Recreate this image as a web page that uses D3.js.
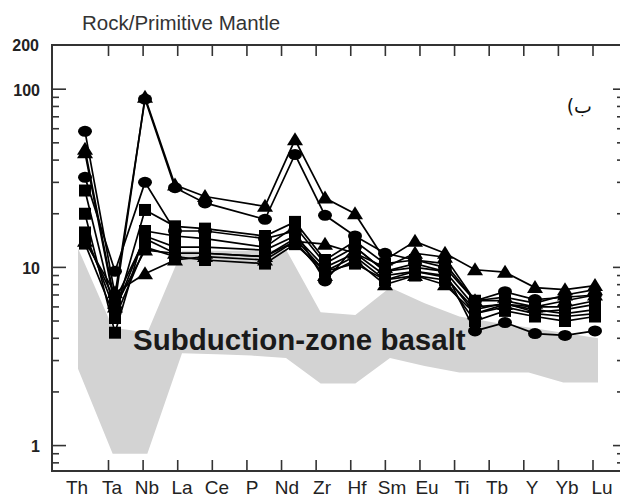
<!DOCTYPE html>
<html><head><meta charset="utf-8">
<script src="https://cdn.jsdelivr.net/npm/d3@7"></script>
<style>body{margin:0;background:#fff}svg{display:block}</style>
</head><body><svg id="c" width="620" height="499"></svg>
<script>
// ---- data ----
const axisLabels = ["Th","Ta","Nb","La","Ce","P","Nd","Zr","Hf","Sm","Eu","Ti","Tb","Y","Yb","Lu"];
const dataSlots = ["Th","Ta","Nb","La","Ce","Pr","P","Nd","Zr","Hf","Sm","Eu","Ti","Tb","Dy","Y","Yb","Lu"];
const dataElements = ["Th","Ta","Nb","La","Ce","P","Nd","Zr","Hf","Sm","Eu","Ti","Tb","Dy","Y","Yb","Lu"];
const seriesShapes = ["triangle","circle","triangle","circle","square","square","square","square","triangle","square"];
const s1  = [46, 6.3, 90, 29, 25, 22, 52, 24.5, 20, 11, 14, 12, 9.7, 9.4, 7.7, 7.5, 7.9];
const s2  = [58, 7.0, 88, 28, 23, 18.6, 43, 19.6, 15, 12, 11, 10, 6.5, 7.3, 6.6, 6.8, 7.0];
const s3  = [44, 6.0, 12.5, 12, 12, 11.5, 14, 13.5, 12, 10, 12, 11.4, 6.5, 6.8, 6.3, 7.0, 7.5];
const s4  = [32, 9.5, 30, 16, 16, 14.5, 16, 8.4, 13, 9.5, 10.5, 9.5, 4.4, 4.9, 4.25, 4.15, 4.4];
const s5  = [27, 5.5, 21, 17, 16.5, 15, 18, 11, 14, 10.5, 11, 10.5, 6.5, 6.5, 6.0, 6.0, 6.5];
const s6  = [20, 4.3, 16, 15, 14.5, 13, 17, 10.5, 13, 9.5, 10, 9.5, 6.0, 6.2, 5.8, 5.5, 5.8];
const s7  = [15.7, 5.7, 15, 13, 13, 12.5, 15, 10, 12, 9, 9.5, 9, 5.5, 6.0, 5.5, 5.3, 5.5];
const s8  = [14.6, 6.5, 14.5, 12, 12, 11.5, 14.5, 9.5, 11.5, 8.5, 9, 8.5, 5.0, 5.7, 5.3, 5.0, 5.3];
const s9  = [14, 7.2, 9.2, 11, 11.5, 11, 14, 9, 11, 8, 9, 8, 5.5, 6.2, 6.0, 6.5, 7.0];
const s10 = [13.6, 5.2, 13, 11.5, 11, 10.5, 13.5, 9.5, 10.5, 8.5, 9.5, 8.8, 5.8, 6.3, 5.6, 5.8, 6.2];
const seriesValues = [s1,s2,s3,s4,s5,s6,s7,s8,s9,s10];
// subduction-zone basalt field (per axis label)
const fieldUpper = [12.8, 4.6, 4.3, 12.4, 12.4, 12.4, 12.6, 5.6, 5.4, 7.7, 6.3, 5.3, 4.9, 4.6, 4.3, 4.0];
const fieldLower = [2.7, 0.9, 0.9, 3.3, 3.25, 3.2, 3.1, 2.23, 2.23, 3.1, 2.8, 2.57, 2.57, 2.57, 2.26, 2.26];
const yMajorTicks = [1, 10, 100];
const yMinorTicks = [0.8, 0.9, 2,3,4,5,6,7,8,9, 20,30,40,50,60,70,80,90];
const yTopLabel = "200";
const titleText = "Rock/Primitive Mantle";
const fieldText = "Subduction-zone basalt";
const panelText = "ب)";

// ---- layout ----
const L = 52, R = 622, T = 45, B = 471;
const svg = d3.select("#c");
const font = "'Liberation Sans', Arial, sans-serif";
const y = d3.scaleLog().domain([0.72, 177]).range([B, T]);
const xData = d3.scalePoint().domain(dataSlots).range([85, 595]);
const xLab = d3.scalePoint().domain(axisLabels).range([77, 602]);
const xField = d3.scalePoint().domain(axisLabels).range([78, 598]);
const xTick = d3.scalePoint().domain(axisLabels.slice(1)).range([108.5, 593]);

// field
const area = d3.area()
  .x((d,i) => xField(axisLabels[i]))
  .y0((d,i) => y(fieldLower[i]))
  .y1((d,i) => y(fieldUpper[i]));
svg.append("path").datum(fieldUpper).attr("d", area).attr("fill", "#d3d3d3");

svg.append("text").attr("x", 133).attr("y", 350)
  .attr("font-family", font).attr("font-weight", "bold").attr("font-size", 29.5)
  .attr("fill", "#1a1a1a").text(fieldText);

// frame
const axisCol = "#333";
svg.append("rect").attr("x", L).attr("y", T).attr("width", R-L).attr("height", B-T)
  .attr("fill", "none").attr("stroke", axisCol).attr("stroke-width", 2);

// y ticks
const gy = svg.append("g").attr("stroke", axisCol).attr("stroke-width", 1.6);
yMajorTicks.forEach(v => {
  gy.append("line").attr("x1", L).attr("x2", L+14).attr("y1", y(v)).attr("y2", y(v));
  gy.append("line").attr("x1", R).attr("x2", R-9).attr("y1", y(v)).attr("y2", y(v));
});
yMinorTicks.forEach(v => {
  gy.append("line").attr("x1", L).attr("x2", L+7).attr("y1", y(v)).attr("y2", y(v));
  gy.append("line").attr("x1", R).attr("x2", R-5).attr("y1", y(v)).attr("y2", y(v));
});
const yLab = svg.append("g").attr("font-family", font).attr("font-weight", "bold")
  .attr("font-size", 16).attr("fill", "#222").attr("text-anchor", "end");
yMajorTicks.forEach(v => {
  yLab.append("text").attr("x", 40).attr("y", y(v)).attr("dy", "0.4em").text(String(v));
});
yLab.append("text").attr("x", 39).attr("y", y.range()[1]).attr("dy", "0.4em").text(yTopLabel);

// x ticks
const gx = svg.append("g").attr("stroke", axisCol).attr("stroke-width", 1.6);
axisLabels.slice(1).forEach(l => {
  gx.append("line").attr("x1", xTick(l)).attr("x2", xTick(l)).attr("y1", B).attr("y2", B-11);
  gx.append("line").attr("x1", xTick(l)).attr("x2", xTick(l)).attr("y1", T).attr("y2", T+11);
});
svg.append("g").attr("font-family", font).attr("font-size", 19).attr("fill", "#222")
  .attr("text-anchor", "middle")
  .selectAll("text").data(axisLabels).join("text")
  .attr("x", d => xLab(d)).attr("y", 494).text(d => d);

// title
svg.append("text").attr("x", 82).attr("y", 30).attr("font-family", font)
  .attr("font-size", 20.5).attr("fill", "#333").text(titleText);
svg.append("text").attr("x", 592).attr("y", 113).attr("font-family", "'DejaVu Sans', sans-serif")
  .attr("font-size", 19).attr("direction", "rtl").attr("text-anchor", "start")
  .attr("fill", "#111").text(panelText);

// lines
const line = d3.line().x((d,i) => xData(dataElements[i])).y(d => y(d));
svg.append("g").selectAll("path").data(seriesValues).join("path")
  .attr("d", d => line(d)).attr("fill", "none").attr("stroke", "#000").attr("stroke-width", 1.7);

// markers
const shapes = {
  circle: "M-7,0 A7,5.5 0 1,0 7,0 A7,5.5 0 1,0 -7,0 Z",
  triangle: "M0,-7.5 L8,5.5 L-8,5.5 Z",
  square: "M-6,-6 H6 V6 H-6 Z"
};
seriesValues.forEach((vals, si) => {
  svg.append("g").selectAll("path").data(vals).join("path")
    .attr("transform", (d,i) => `translate(${xData(dataElements[i])},${y(d)})`)
    .attr("d", shapes[seriesShapes[si]]).attr("fill", "#000");
});
</script></body></html>
